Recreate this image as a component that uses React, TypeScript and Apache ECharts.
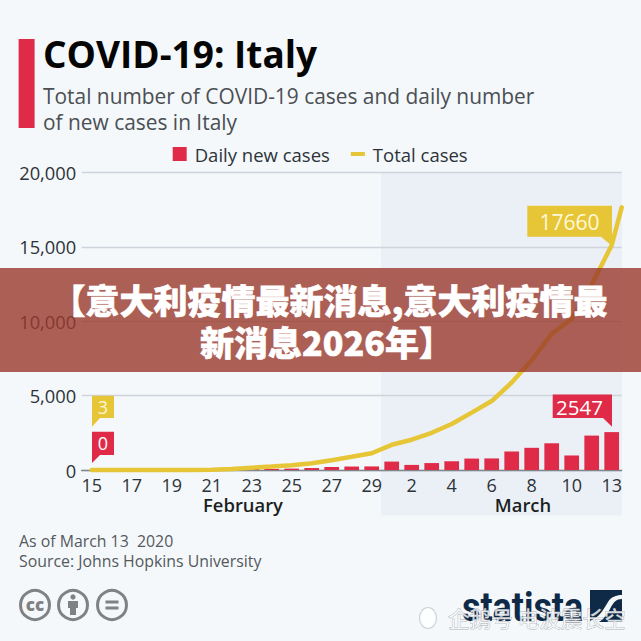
import React, { useEffect, useRef } from "react";
import * as echarts from "echarts";

const categories = ["15","16","17","18","19","20","21","22","23","24","25","26","27","28","29","1","2","3","4","5","6","7","8","9","10","11","13"];
const dailyNew = [0,0,0,0,0,0,17,42,93,74,93,131,202,233,240,566,342,466,587,769,778,1247,1492,1797,977,2313,2547];
const totalPositions = [0,1,2,3,4,5,6,7,8,9,10,11,12,13,14,15,16,17,18,19,20,21,22,23,24,25,26,26.5];
const totalCases = [3,3,3,3,3,3,20,62,155,229,322,453,655,888,1128,1694,2036,2502,3089,3858,4636,5883,7375,9172,10149,12462,15113,17660];
const titleText = "COVID-19: Italy";
const subtitleLines = ["Total number of COVID-19 cases and daily number", "of new cases in Italy"];
const footerLines = ["As of March 13  2020", "Source: Johns Hopkins University"];
const bannerLines = ["【意大利疫情最新消息,意大利疫情最", "新消息2026年】"];
const watermarkText = "企鹅号 电波震长空";

const RED = "#e02b48";
const YELLOW = "#e6c637";
const NAVY = "#0f2a47";
const GREY = "#7f8182";
const FONT = '"Open Sans", sans-serif';

echarts.graphic.registerShape("logoWave", echarts.graphic.extendPath(
  "M0 31C10 27 13 20 18 12C21 7 26 5 32 5L32 9C26 9 24 12 21 17C18 23 14 29 9 32L0 32Z", {}) as any);

const tx = (text: string, x: number, y: number, fontSize: number, fill: string, extra: any = {}) => ({
  type: "text", x, y, z: 20, silent: true,
  style: { text, fontSize, fill, fontFamily: FONT, textVerticalAlign: "middle", verticalAlign: "middle", ...extra },
});
const poly = (points: number[][], fill: string, z = 6) => ({ type: "polygon", z, silent: true, shape: { points }, style: { fill } });
const bannerText = (text: string, x: number, y: number) => ({
  type: "text", x, y, z: 51, silent: true,
  style: { text, fontSize: 34, fontWeight: 900, fill: "#fff", stroke: "#fff", lineWidth: 0.6, align: "center", textAlign: "center", verticalAlign: "middle", textVerticalAlign: "middle", fontFamily: '"Noto Sans CJK SC", sans-serif' },
});

export default function App() {
  const ref = useRef<HTMLDivElement>(null);
  useEffect(() => {
    document.body.style.margin = "0";
    const chart = echarts.init(ref.current!, undefined, { renderer: "svg" });
    chart.setOption({
      animation: false,
      backgroundColor: "#f4f8fb",
      textStyle: { fontFamily: FONT },
      grid: { left: 81.7, right: 19.3, top: 172.5, bottom: 171, containLabel: false },
      legend: {
        left: 167.7, top: 139.5, itemGap: 21, itemWidth: 14, itemHeight: 14, selectedMode: false,
        textStyle: { fontSize: 18.5, color: "#2d3338", fontFamily: FONT, padding: [0, 0, 0, 3] },
        data: [
          { name: "Daily new cases", icon: "rect" },
          { name: "Total cases", icon: "path://M0 0h0.01v0.01zM0 5h14v4H0zM14 14h-0.01v-0.01z" },
        ],
      },
      xAxis: [
        {
          type: "category", data: categories, boundaryGap: true,
          axisTick: { show: false },
          axisLine: { lineStyle: { color: "#7f868d", width: 1.3 } },
          axisLabel: { interval: 1, fontSize: 18, color: "#2d3338", margin: 6, fontFamily: FONT },
        },
        { type: "value", min: -0.5, max: 26.5, show: false },
      ],
      yAxis: {
        type: "value", min: 0, max: 20000, interval: 5000,
        axisLine: { show: false }, axisTick: { show: false },
        axisLabel: {
          fontSize: 18.3, color: "#2d3338", margin: 5.5, fontFamily: FONT,
          formatter: (v: number) => v.toLocaleString("en-US"),
        },
        splitLine: { lineStyle: { color: "#cdd4dc", width: 1.3 } },
      },
      series: [
        { name: "Daily new cases", type: "bar", data: dailyNew, barWidth: 14.7, itemStyle: { color: RED }, xAxisIndex: 0, z: 2 },
        {
          name: "Total cases", type: "line", xAxisIndex: 1, z: 8, symbol: "none", showSymbol: false, clip: false,
          data: totalCases.map((v, i) => [totalPositions[i], v]),
          lineStyle: { color: YELLOW, width: 4.5, cap: "round" }, itemStyle: { color: YELLOW },
        },
      ],
      graphic: { elements: [
        { type: "rect", z: -1, silent: true, shape: { x: 381, y: 172.5, width: 241, height: 343 }, style: { fill: "#ebf0f7" } },
        { type: "rect", z: 6, silent: true, shape: { x: 18.6, y: 39, width: 16, height: 89 }, style: { fill: RED } },
        tx(titleText, 43, 53, 37, "#050505", { fontWeight: 700 }),
        tx(subtitleLines[0], 43, 95.5, 20.9, "#4b4f53"),
        tx(subtitleLines[1], 43, 121.5, 20.9, "#4b4f53"),
        tx("February", 243, 504, 18.4, "#1c1f22", { fontWeight: 600, align: "center", textAlign: "center" }),
        tx("March", 523, 504, 18.4, "#1c1f22", { fontWeight: 600, align: "center", textAlign: "center" }),

        poly([[92, 395.7], [114, 395.7], [114, 418], [100, 418], [92, 426.7]], YELLOW),
        tx("3", 103, 407, 18, "#fdf6d5", { align: "center", textAlign: "center" }),
        poly([[92, 431.7], [114, 431.7], [114, 455], [100, 455], [92, 463]], RED),
        tx("0", 103, 443, 18, "#ffffff", { align: "center", textAlign: "center" }),
        poly([[552.7, 394.5], [612, 394.5], [612, 426.7], [603, 418], [552.7, 418]], RED),
        tx("2547", 579.5, 406.5, 20.5, "#ffffff", { align: "center", textAlign: "center" }),
        poly([[527.3, 205.7], [612, 205.7], [612, 246], [601, 236.7], [527.3, 236.7]], YELLOW),
        tx("17660", 569.5, 221.5, 21, "#fff8d8", { align: "center", textAlign: "center" }),

        tx(footerLines[0], 19, 541, 15.85, "#55595d"),
        tx(footerLines[1], 19, 561, 15.85, "#55595d"),

        { type: "circle", z: 6, silent: true, shape: { cx: 35, cy: 605, r: 14.5 }, style: { fill: "none", stroke: GREY, lineWidth: 3 } },
        tx("cc", 35, 604, 17, GREY, { fontWeight: 800, align: "center", textAlign: "center" }),
        { type: "circle", z: 6, silent: true, shape: { cx: 73, cy: 605, r: 14.5 }, style: { fill: "none", stroke: GREY, lineWidth: 3 } },
        { type: "circle", z: 6, silent: true, shape: { cx: 73, cy: 597, r: 2.6 }, style: { fill: GREY } },
        poly([[68, 601], [78, 601], [78, 608], [76, 608], [76, 615], [70, 615], [70, 608], [68, 608]], GREY),
        { type: "circle", z: 6, silent: true, shape: { cx: 112, cy: 605, r: 14.5 }, style: { fill: "none", stroke: GREY, lineWidth: 3 } },
        { type: "rect", z: 6, silent: true, shape: { x: 105.5, y: 600.5, width: 13, height: 3 }, style: { fill: GREY } },
        { type: "rect", z: 6, silent: true, shape: { x: 105.5, y: 606.5, width: 13, height: 3 }, style: { fill: GREY } },

        { type: "text", x: 462, y: 606.5, z: 20, silent: true, scaleX: 0.97, scaleY: 1.1,
          style: { text: "statista", fontSize: 37, fontWeight: 700, fill: NAVY, fontFamily: '"Liberation Sans Narrow", "Roboto", sans-serif', verticalAlign: "middle", textVerticalAlign: "middle" } },
        { type: "rect", z: 6, silent: true, shape: { x: 590, y: 590, width: 32, height: 32 }, style: { fill: NAVY } },
        { type: "logoWave", x: 590, y: 590, z: 7, silent: true, style: { fill: "#f4f8fb" } },

        { type: "ellipse", z: 30, silent: true, shape: { cx: 428, cy: 618, rx: 8.5, ry: 10.5 }, style: { fill: "#ffffff", stroke: "#c9cdd1", lineWidth: 1.2, opacity: 0.9 } },
        tx(watermarkText, 448, 617, 21.6, "rgba(255,255,255,0.8)", {
          fontFamily: '"Noto Sans CJK SC", sans-serif',
          stroke: "rgba(150,156,162,0.8)", lineWidth: 0.8,
        }),

        { type: "rect", z: 50, silent: true, shape: { x: 0, y: 268, width: 641, height: 104 }, style: { fill: "rgba(154,57,44,0.8)" } },
        bannerText(bannerLines[0], 329.5, 299.5),
        bannerText(bannerLines[1], 326.5, 341),
      ] },
    });
    return () => chart.dispose();
  }, []);
  return <div ref={ref} style={{ width: 641, height: 641, position: "absolute", left: 0, top: 0 }} />;
}
